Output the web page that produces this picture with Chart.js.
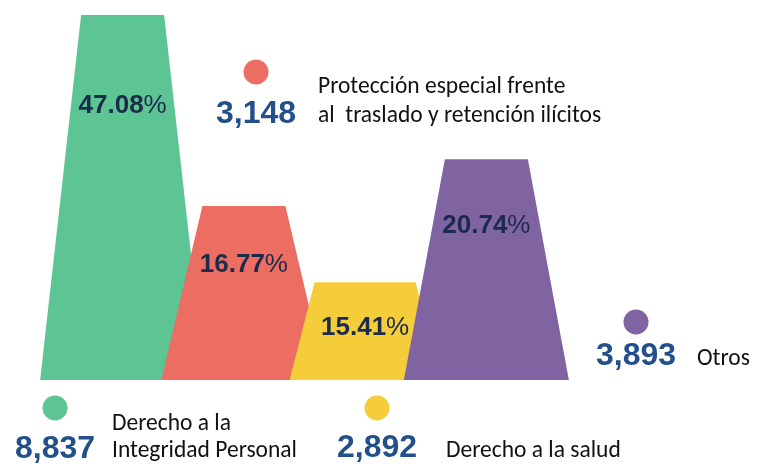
<!DOCTYPE html>
<html>
<head>
<meta charset="utf-8">
<script src="https://cdn.jsdelivr.net/npm/chart.js@4/dist/chart.umd.min.js"></script>
<style>
  html, body { margin: 0; padding: 0; background: #fff; }
  #wrap { width: 758px; height: 464px; position: relative; }
</style>
</head>
<body>
<div id="wrap"><canvas id="grafico" width="758" height="464"></canvas></div>
<script>
// datos
const categorias = [
  ['Derecho a la', 'Integridad Personal'],
  ['Protección especial frente', 'al  traslado y retención ilícitos'],
  ['Derecho a la salud'],
  ['Otros']
];
const cantidades = ['8,837', '3,148', '2,892', '3,893'];
const porcentajes = ['47.08', '16.77', '15.41', '20.74'];
// altura de cada figura (escala 0-100, la mayor = 100)
const alturas = [100, 47.7, 26.8, 60.5];

const colores = ['#5dc494', '#ec6d62', '#f5cd3b', '#8064a2'];
const azulCantidad = '#23508a';
const azulPorcentaje = '#1b2b4b';

// forma de cada trapecio (ancho abajo / ancho arriba, px)
const anchoBase = [165, 165, 151, 165];
const anchoCima = [83, 83, 101, 83];

// ubicacion de las notas (punto, cantidad, nombre)
const notas = [
  { cx: 55,  py: 408, cy: 458, tx: 112, ty: [430, 457] },
  { cx: 256, py: 72,  cy: 123, tx: 318, ty: [93, 122] },
  { cx: 377, py: 408, cy: 457, tx: 446, ty: [457] },
  { cx: 636, py: 322, cy: 365, tx: 697, ty: [365] }
];

const fuenteTexto = 'Carlito, Lato, sans-serif';
const fuenteNum = '"Liberation Sans", Arial, sans-serif';

// dibuja trapecios en vez de barras
const trapecios = {
  id: 'trapecios',
  beforeDatasetDraw(chart, args) {
    const ctx = chart.ctx;
    const meta = args.meta;
    meta.data.forEach(function(el, i) {
      const bw = anchoBase[i] / 2, tw = anchoCima[i] / 2;
      ctx.save();
      ctx.fillStyle = el.options.backgroundColor;
      ctx.beginPath();
      ctx.moveTo(el.x - bw, el.base);
      ctx.lineTo(el.x - tw, el.y);
      ctx.lineTo(el.x + tw, el.y);
      ctx.lineTo(el.x + bw, el.base);
      ctx.closePath();
      ctx.fill();
      ctx.restore();
    });
    return false;
  },
  afterDatasetsDraw(chart) {
    const ctx = chart.ctx;
    const meta = chart.getDatasetMeta(0);
    ctx.save();
    ctx.textBaseline = 'middle';
    meta.data.forEach(function(el, i) {
      const h = el.base - el.y;
      const yy = el.y + 0.17 * h + 29;
      ctx.font = 'bold 26px ' + fuenteNum;
      const w1 = ctx.measureText(porcentajes[i]).width;
      ctx.font = '26px ' + fuenteNum;
      const w2 = ctx.measureText('%').width;
      let x0 = el.x - (w1 + w2) / 2;
      ctx.fillStyle = azulPorcentaje;
      ctx.textAlign = 'left';
      ctx.font = 'bold 26px ' + fuenteNum;
      ctx.fillText(porcentajes[i], x0, yy);
      ctx.font = '26px ' + fuenteNum;
      ctx.fillText('%', x0 + w1, yy);
    });
    ctx.restore();

    // notas: punto, cantidad y nombre
    ctx.save();
    ctx.textBaseline = 'alphabetic';
    notas.forEach(function(n, i) {
      ctx.fillStyle = colores[i];
      ctx.beginPath();
      ctx.arc(n.cx, n.py, 12.5, 0, Math.PI * 2);
      ctx.fill();

      ctx.fillStyle = azulCantidad;
      ctx.textAlign = 'center';
      ctx.font = 'bold 32px ' + fuenteNum;
      ctx.fillText(cantidades[i], n.cx, n.cy);

      ctx.fillStyle = '#111';
      ctx.textAlign = 'left';
      ctx.font = '23.5px ' + fuenteTexto;
      categorias[i].forEach(function(linea, j) {
        ctx.fillText(linea, n.tx, n.ty[j]);
      });
    });
    ctx.restore();
  }
};

var ctx = document.getElementById('grafico').getContext('2d');
var chart = new Chart(ctx, {
  type: 'bar',
  data: {
    labels: categorias.map(c => c.join(' ')),
    datasets: [{
      data: alturas,
      backgroundColor: colores,
      barThickness: 165
    }]
  },
  options: {
    responsive: false,
    animation: false,
    layout: { padding: { left: 62, right: 211, top: 15, bottom: 84 } },
    plugins: { legend: { display: false }, tooltip: { enabled: false } },
    scales: {
      x: { display: false },
      y: { display: false, min: 0, max: 100 }
    }
  },
  plugins: [trapecios]
});
</script>
</body>
</html>
